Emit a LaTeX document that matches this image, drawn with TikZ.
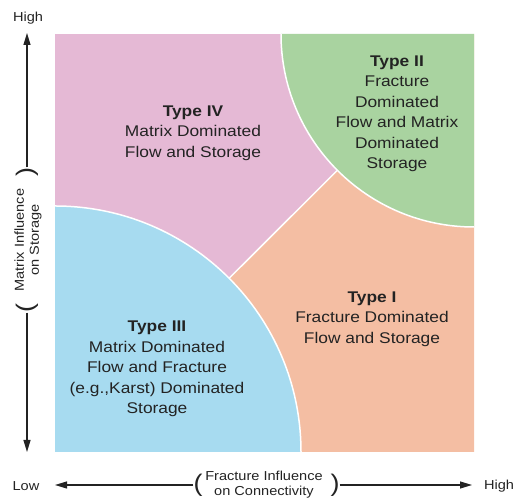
\documentclass[tikz,border=0pt]{standalone}
\usepackage{fontspec}
\setmainfont{Liberation Sans}[FakeStretch=1.12]
\usetikzlibrary{arrows.meta}
\definecolor{tpink}{RGB}{229,185,213}
\definecolor{tgreen}{RGB}{169,211,160}
\definecolor{torange}{RGB}{244,190,163}
\definecolor{tblue}{RGB}{167,219,240}
\definecolor{txtgray}{RGB}{35,35,35}

\begin{document}
\begin{tikzpicture}[x=1pt, y=1pt,
    border/.style={draw=white, line width=1.5pt},
    typetext/.style={align=center, text=txtgray, font=\fontsize{15.5}{20.5}\selectfont},
    axislabel/.style={align=center, text=txtgray, font=\fontsize{13}{15}\selectfont},
    paren/.style={text=txtgray, inner sep=0pt, font=\fontsize{24}{24}\selectfont},
    axis/.style={line width=1.1pt, txtgray, -{Triangle[length=12pt, width=7pt]}}
  ]
  \useasboundingbox (0,0) rectangle (514,502);

  % the four regions
  \fill[tpink] (55,50) rectangle (474,468);
  \fill[torange] (55,50) -- (474,50) -- (474,468) -- cycle;
  \draw[border] (55,50) -- (474,468);
  \fill[tblue] (55,50) -- (301,50) arc[start angle=0, end angle=90, radius=246] -- cycle;
  \draw[border] (301,50) arc[start angle=0, end angle=90, radius=246];
  \fill[tgreen] (474,468) -- (281,468) arc[start angle=180, end angle=270, radius=193] -- cycle;
  \draw[border] (281,468) arc[start angle=180, end angle=270, radius=193];

  \node[typetext] (t4) at (193,369) {\textbf{Type IV}\\Matrix Dominated\\Flow and Storage};
  \node[typetext] (t2) at (397,388) {\textbf{Type II}\\Fracture\\Dominated\\Flow and Matrix\\Dominated\\Storage};
  \node[typetext] (t3) at (157,133) {\textbf{Type III}\\Matrix Dominated\\Flow and Fracture\\(e.g.,Karst) Dominated\\Storage};
  \node[typetext] (t1) at (372,183) {\textbf{Type I}\\Fracture Dominated\\Flow and Storage};

  % vertical axis
  \node[axislabel] (yhigh) at (28,484) {High};
  \coordinate (ytip) at (27,469);
  \coordinate (ybot) at (27,50);
  \node[paren, rotate=90] (ypr) at (27,330) {)};
  \node[paren, rotate=90] (ypl) at (27,194) {(};
  \node[axislabel, rotate=90] (ylab) at (28,262) {Matrix Influence\\on Storage};
  \draw[axis] (ypr) -- (ytip);
  \draw[axis] (ypl) -- (ybot);

  % horizontal axis
  \node[axislabel] (xlow) at (26,16) {Low};
  \node[axislabel] (xhigh) at (499,16) {High};
  \coordinate (xltip) at (55,17);
  \coordinate (xrtip) at (472,17);
  \node[paren] (xpl) at (198,17) {(};
  \node[paren] (xpr) at (335,17) {)};
  \node[axislabel] (xlab) at (264,17) {Fracture Influence\\on Connectivity};
  \draw[axis] (xpl) -- (xltip);
  \draw[axis] (xpr) -- (xrtip);
\end{tikzpicture}
\end{document}
